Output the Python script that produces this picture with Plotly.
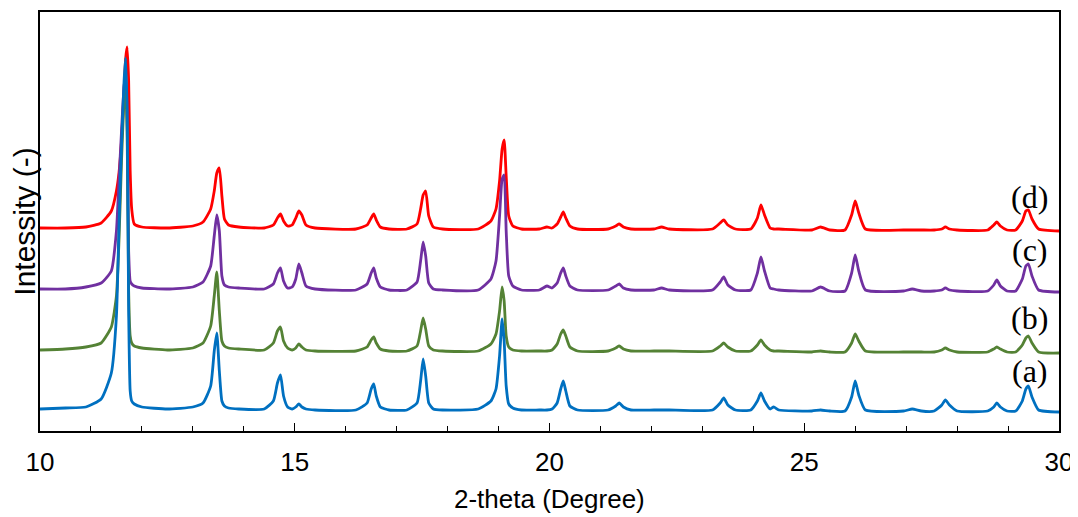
import plotly.graph_objects as go

# 2-theta grid (degrees) read at baseline / flank / peak-top points
X = [
    10.0, 10.5, 10.9, 11.2, 11.4, 11.5, 11.55, 11.6, 11.65, 11.68, 11.71, 11.74, 11.77, 11.8, 11.85, 12.0,
    12.5, 13.0, 13.2, 13.35, 13.42, 13.47, 13.52, 13.57, 13.62, 13.7, 13.9,
    14.4, 14.58, 14.66, 14.72, 14.78, 14.86, 14.95, 15.02, 15.08, 15.14, 15.22, 15.4,
    16.2, 16.42, 16.5, 16.55, 16.6, 16.68, 16.85,
    17.2, 17.4, 17.47, 17.52, 17.57, 17.63, 17.72, 17.9,
    18.6, 18.85, 18.95, 19.02, 19.07, 19.11, 19.15, 19.2, 19.28, 19.45,
    19.8, 19.95, 20.05, 20.15, 20.22, 20.27, 20.32, 20.4, 20.55,
    21.15, 21.3, 21.37, 21.45, 21.6,
    22.05, 22.2, 22.35,
    23.2, 23.35, 23.42, 23.5, 23.65,
    23.95, 24.08, 24.15, 24.22, 24.33, 24.4, 24.5,
    25.15, 25.32, 25.5,
    25.8, 25.93, 26.0, 26.07, 26.2,
    26.95, 27.12, 27.3,
    27.55, 27.7, 27.77, 27.85, 28.0,
    28.6, 28.72, 28.78, 28.85, 28.98,
    29.15, 29.28, 29.35, 29.4, 29.47, 29.6, 30.0,
]

# intensities (arbitrary units, already offset for stacking)
Y_A = [
    22, 23, 24, 32, 58, 115, 205, 285, 350, 373, 320, 120, 40, 30, 27, 24,
    22, 24, 28, 45, 80, 98, 60, 30, 25, 23, 22,
    22, 30, 48, 56, 35, 24, 22, 24, 27, 24, 22, 21,
    21, 28, 42, 47, 35, 24, 21,
    21, 28, 50, 72, 55, 28, 22, 21,
    22, 30, 42, 75, 112, 90, 45, 27, 23, 21,
    21, 21, 22, 28, 42, 50, 40, 25, 21,
    21, 25, 28, 24, 21,
    21, 21, 21,
    21, 28, 33, 26, 21,
    21, 30, 38, 30, 22, 24, 21,
    20, 21, 20,
    20, 34, 50, 36, 21,
    20, 22, 20,
    20, 26, 31, 26, 20,
    20, 24, 28, 24, 20,
    20, 30, 42, 45, 34, 21, 19,
]
Y_B = [
    81, 82, 84, 88, 104, 135, 190, 270, 330, 341, 300, 140, 95, 88, 85, 83,
    81, 83, 88, 105, 135, 159, 120, 90, 85, 83, 82,
    81, 88, 100, 104, 90, 83, 81, 83, 87, 84, 81, 80,
    80, 84, 91, 94, 88, 82, 80,
    80, 85, 100, 113, 102, 85, 81, 80,
    80, 87, 97, 120, 144, 130, 95, 84, 81, 80,
    80, 80, 81, 87, 97, 101, 95, 84, 80,
    80, 83, 85, 82, 80,
    80, 80, 80,
    80, 85, 88, 84, 80,
    80, 86, 91, 86, 81, 80, 80,
    79, 80, 79,
    79, 88, 97, 90, 80,
    79, 79, 79,
    79, 81, 83, 81, 79,
    79, 82, 84, 82, 79,
    79, 86, 93, 95, 88, 79, 78,
]
Y_C = [
    142, 142, 144, 148, 160, 200, 250, 300, 345, 356, 320, 180, 150, 147, 145, 143,
    142, 144, 149, 165, 195, 216, 200, 155, 146, 144, 143,
    142, 147, 158, 163, 150, 143, 144, 152, 167, 158, 145, 142,
    141, 147, 158, 163, 153, 144, 141,
    141, 149, 170, 189, 175, 148, 142, 141,
    141, 152, 170, 215, 252, 256, 200, 155, 145, 141,
    141, 145, 143, 148, 158, 163, 155, 145, 141,
    141, 145, 147, 143, 141,
    141, 143, 141,
    141, 149, 154, 146, 141,
    141, 158, 174, 160, 143, 142, 141,
    140, 144, 140,
    140, 158, 176, 160, 141,
    140, 142, 140,
    140, 141, 143, 141, 140,
    140, 146, 151, 145, 140,
    140, 152, 165, 167, 155, 141, 139,
]
Y_D = [
    203, 203, 204, 208, 220, 240, 258, 290, 340, 372, 384, 350, 260, 222, 207, 204,
    203, 205, 209, 222, 240, 258, 263, 235, 212, 206, 204,
    203, 206, 213, 217, 210, 205, 206, 213, 220, 216, 206, 203,
    202, 206, 213, 217, 211, 204, 202,
    202, 207, 222, 236, 240, 215, 204, 202,
    202, 210, 222, 250, 282, 291, 255, 215, 205, 202,
    202, 204, 203, 207, 214, 219, 213, 205, 202,
    202, 205, 207, 204, 202,
    202, 204, 202,
    202, 208, 211, 206, 202,
    202, 213, 226, 216, 203, 202, 202,
    201, 204, 201,
    201, 216, 230, 218, 202,
    201, 201, 201,
    201, 202, 204, 202, 201,
    201, 206, 209, 205, 201,
    201, 210, 220, 221, 212, 202, 200,
]

LABELS = ["(a)", "(b)", "(c)", "(d)"]
LABEL_Y = [60, 113, 181, 234]
LABEL_X = 29.43
COLORS = ["#0070C0", "#548235", "#7030A0", "#FF0000"]
SERIES = [Y_A, Y_B, Y_C, Y_D]
X_TITLE = "2-theta (Degree)"
Y_TITLE = "Intessity (-)"

fig = go.Figure()
# draw (d) first so that (a) sits on top
for i in [3, 2, 1, 0]:
    assert len(SERIES[i]) == len(X)
    fig.add_trace(go.Scatter(
        x=X, y=SERIES[i], mode="lines", name=LABELS[i],
        line=dict(color=COLORS[i], width=2.8, shape="spline", smoothing=0.5),
        hoverinfo="x+y",
    ))

for lab, ly in zip(LABELS, LABEL_Y):
    fig.add_annotation(x=LABEL_X, y=ly, text=lab, showarrow=False,
                       font=dict(family="Liberation Serif, Times New Roman, serif", size=32, color="black"),
                       xanchor="center", yanchor="middle")

# x-axis title as a paper-anchored annotation below the tick labels
fig.add_annotation(x=0.5, y=-0.162, xref="paper", yref="paper", text=X_TITLE,
                   showarrow=False, xanchor="center", yanchor="middle",
                   font=dict(size=26, color="black"))

# the page body adds an 8px offset, so the figure is 8px smaller with trimmed margins
fig.update_layout(
    width=1070, height=509,
    margin=dict(l=32, r=19, t=4, b=86, autoexpand=False),
    paper_bgcolor="white", plot_bgcolor="white",
    showlegend=False,
    font=dict(family="Liberation Sans, Arial, sans-serif", color="black"),
)
fig.update_xaxes(
    range=[10, 30], tickmode="array", tickvals=[10, 15, 20, 25, 30],
    ticks="inside", ticklen=8, tickwidth=1, tickcolor="black",
    minor=dict(dtick=1, tick0=10, ticks="inside", ticklen=5, tickcolor="black", tickwidth=1),
    showline=True, linecolor="black", linewidth=1.5, mirror=True,
    showgrid=False, zeroline=False, automargin=False,
    tickfont=dict(size=26), ticklabelstandoff=7,
)
fig.update_yaxes(
    range=[0, 419], showticklabels=False, ticks="",
    showline=True, linecolor="black", linewidth=1.5, mirror=True,
    showgrid=False, zeroline=False, automargin=False,
    title=dict(text=Y_TITLE, font=dict(size=30), standoff=0),
)

fig.write_html("out.html")
